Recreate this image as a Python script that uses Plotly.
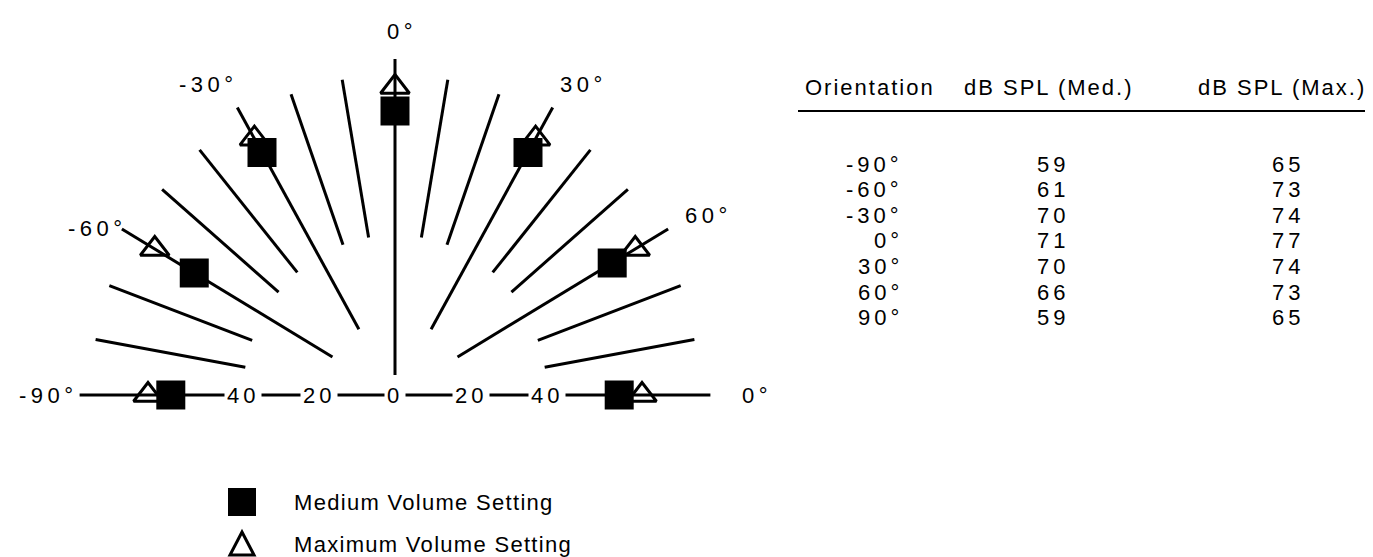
import numpy as np
import plotly.graph_objects as go

# ---------------- data ----------------
orientation_deg = [-90, -60, -30, 0, 30, 60, 90]
orientation_labels = ["-90°", "-60°", "-30°", "0°", "30°", "60°", "90°"]
db_medium = [59, 61, 70, 71, 70, 66, 59]
db_maximum = [65, 73, 74, 77, 74, 73, 65]

# graticule of the half-polar diagram (angles in degrees, radii in dB units)
minor_spoke_deg = [-80, -70, -50, -40, -20, -10, 10, 20, 40, 50, 70, 80]
major_spoke_deg = [-60, -30, 30, 60]
center_spoke_deg = [0]
baseline_deg = [-90, 90]
radial_tick_values = [-40, -20, 0, 20, 40]
radial_tick_labels = ["40", "20", "0", "20", "40"]
angle_label_text = ["-90°", "-60°", "-30°", "0°", "30°", "60°", "0°"]
angle_label_x = [-91.3, -78.4, -49.0, 1.8, 49.7, 82.4, 95.3]
angle_label_y = [0.0, 41.75, 77.75, 91.0, 77.75, 45.0, 0.0]

table_header = ["Orientation", "dB SPL (Med.)", "dB SPL (Max.)"]
legend_names = ["Medium Volume Setting", "Maximum Volume Setting"]

FONT = "Liberation Sans, Arial, Helvetica, sans-serif"
W, H = 1373, 557
CX, CY = 387.0, 387.0       # pixel position of the diagram centre
SX, SY = 3.8, 4.0           # pixels per dB unit


def spaced(text, px):
    return f'<span style="letter-spacing:{px}px">{text}</span>'


def polar_xy(theta_deg, r):
    t = np.radians(np.asarray(theta_deg, dtype=float))
    r = np.asarray(r, dtype=float)
    return r * np.sin(t), r * np.cos(t)


def spokes(angles, r0, r1):
    xs, ys = [], []
    for a in angles:
        x0, y0 = polar_xy(a, r0)
        x1, y1 = polar_xy(a, r1)
        xs += [float(x0), float(x1), None]
        ys += [float(y0), float(y1), None]
    return xs, ys


fig = go.Figure()
line_style = dict(color="black", width=3)

for angs, r0, r1 in [(minor_spoke_deg, 40, 80), (major_spoke_deg, 19, 83),
                     (center_spoke_deg, 5, 84)]:
    xs, ys = spokes(angs, r0, r1)
    fig.add_trace(go.Scatter(x=xs, y=ys, mode="lines", line=line_style,
                             hoverinfo="skip", showlegend=False))

# baseline (-90° .. 90°)
bx0, _ = polar_xy(baseline_deg[0], 83)
bx1, _ = polar_xy(baseline_deg[1], 83)
fig.add_trace(go.Scatter(x=[float(bx0), float(bx1)], y=[0, 0], mode="lines",
                         line=line_style, hoverinfo="skip", showlegend=False))

# data markers
mx, my = polar_xy(orientation_deg, db_medium)
fig.add_trace(go.Scatter(x=mx, y=my, mode="markers", name=legend_names[0],
                         marker=dict(symbol="square", size=29, color="black",
                                     line=dict(width=0)),
                         showlegend=False))
tx, ty = polar_xy(orientation_deg, db_maximum)
fig.add_trace(go.Scatter(x=tx, y=ty, mode="markers", name=legend_names[1],
                         marker=dict(symbol="triangle-up-open", size=25,
                                     color="black", line=dict(width=3, color="black")),
                         showlegend=False))

annotations = []
# radial distance labels on the baseline (white box interrupts the line)
for v, lab in zip(radial_tick_values, radial_tick_labels):
    annotations.append(dict(x=v, y=0, xref="x", yref="y", text=spaced(lab, 4),
                            showarrow=False,
                            font=dict(family=FONT, size=22, color="black"),
                            bgcolor="white", borderpad=2,
                            xanchor="center", yanchor="middle"))
# angle labels
for t, x, y in zip(angle_label_text, angle_label_x, angle_label_y):
    annotations.append(dict(x=x, y=y, xref="x", yref="y", text=spaced(t, 4.5),
                            showarrow=False,
                            font=dict(family=FONT, size=22, color="black"),
                            xanchor="center", yanchor="middle"))


def px(xp):
    return xp / W


def py(yp):
    return 1 - yp / H


# table
hdr_x = [862, 1040, 1274]
for t, x in zip(table_header, hdr_x):
    annotations.append(dict(x=px(x), y=py(80), xref="paper", yref="paper",
                            text=spaced(t, 2), showarrow=False,
                            font=dict(family=FONT, size=22, color="black"),
                            xanchor="center", yanchor="middle"))
row0, dy = 156, 25.6
for i, (o, m, M) in enumerate(zip(orientation_labels, db_medium, db_maximum)):
    yy = py(row0 + i * dy)
    annotations.append(dict(x=px(897), y=yy, xref="paper", yref="paper",
                            text=spaced(o, 4), showarrow=False,
                            font=dict(family=FONT, size=22, color="black"),
                            xanchor="right", yanchor="middle"))
    annotations.append(dict(x=px(1045), y=yy, xref="paper", yref="paper",
                            text=spaced(str(m), 4), showarrow=False,
                            font=dict(family=FONT, size=22, color="black"),
                            xanchor="center", yanchor="middle"))
    annotations.append(dict(x=px(1280), y=yy, xref="paper", yref="paper",
                            text=spaced(str(M), 4), showarrow=False,
                            font=dict(family=FONT, size=22, color="black"),
                            xanchor="center", yanchor="middle"))

# legend text
leg_y = [494, 536]
for t, yv in zip(legend_names, leg_y):
    annotations.append(dict(x=px(284), y=py(yv), xref="paper", yref="paper",
                            text=spaced(t, 1.3), showarrow=False,
                            font=dict(family=FONT, size=22, color="black"),
                            xanchor="left", yanchor="middle"))

shapes = [
    dict(type="line", xref="paper", yref="paper", x0=px(790), x1=px(1362),
         y0=py(103), y1=py(103), line=dict(color="black", width=2)),
    # legend glyphs
    dict(type="rect", xref="paper", yref="paper", x0=px(220), x1=px(248),
         y0=py(480), y1=py(508), fillcolor="black", line=dict(width=0)),
    dict(type="path", xref="paper", yref="paper",
         path=f"M {px(222)} {py(547)} L {px(246)} {py(547)} L {px(234)} {py(524)} Z",
         line=dict(color="black", width=3)),
]

fig.update_layout(
    width=W, height=H, margin=dict(l=0, r=0, t=0, b=0),
    paper_bgcolor="white", plot_bgcolor="white",
    xaxis=dict(range=[-CX / SX, (W - CX) / SX], visible=False, fixedrange=True),
    yaxis=dict(range=[(CY - H) / SY, CY / SY], visible=False, fixedrange=True),
    annotations=annotations, shapes=shapes, showlegend=False,
)

fig.write_html("out.html")
